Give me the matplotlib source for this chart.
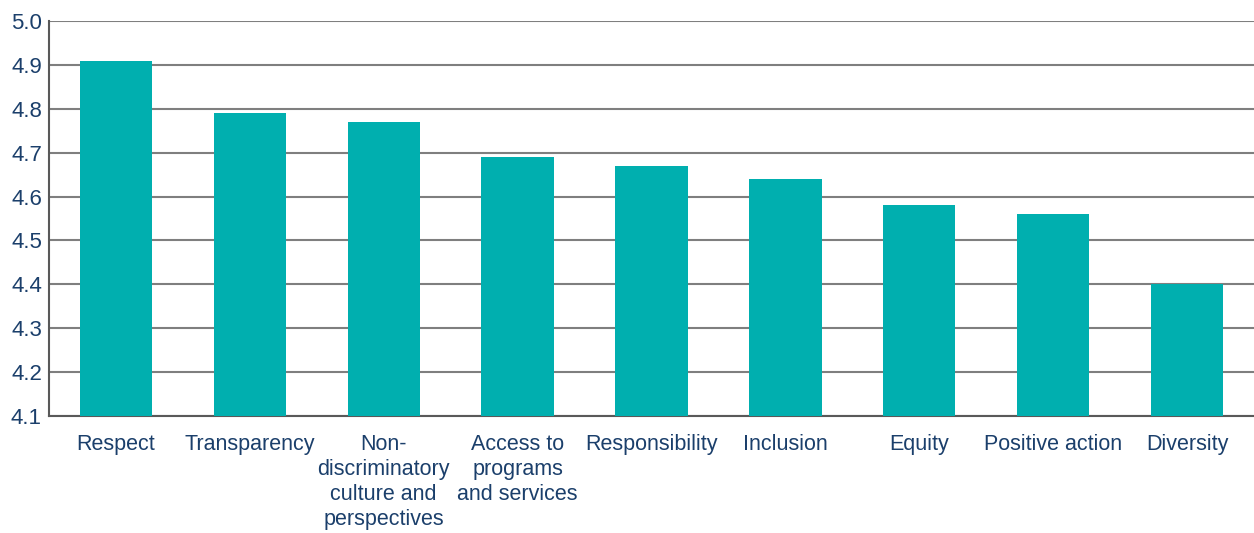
import matplotlib.pyplot as plt
import numpy as np

categories = ["Respect", "Transparency", "Non-\ndiscriminatory\nculture and\nperspectives",
              "Access to\nprograms\nand services", "Responsibility", "Inclusion",
              "Equity", "Positive action", "Diversity"]
values = [4.91, 4.79, 4.77, 4.69, 4.67, 4.64, 4.58, 4.56, 4.40]
yticks = [4.1, 4.2, 4.3, 4.4, 4.5, 4.6, 4.7, 4.8, 4.9, 5.0]

text_color = "#1b3f6b"
plt.rcParams['font.family'] = ['Liberation Sans', 'DejaVu Sans']

fig = plt.figure(figsize=(12.54, 5.33), dpi=100)
ax = fig.add_axes([0.039, 0.2195, 0.961, 0.741])

x = np.arange(len(categories))
ax.bar(x, values, width=0.54, color="#00afaf", zorder=3)

ax.set_ylim(4.1, 5.0)
ax.set_xlim(-0.5, len(categories) - 0.5)
ax.set_yticks(yticks)
ax.set_yticklabels([f"{v:.1f}" for v in yticks])
ax.set_xticks(x)
ax.set_xticklabels(categories, linespacing=1.25, va="top")
ax.yaxis.grid(True, color="#7f7f7f", lw=1.5, zorder=0)
ax.tick_params(axis='both', length=0, labelsize=15.5, colors=text_color)
ax.tick_params(axis='x', pad=13)
ax.tick_params(axis='y', pad=5, labelsize=16)

for s in ["top", "right"]:
    ax.spines[s].set_visible(False)
ax.spines["left"].set_color("#595959")
ax.spines["left"].set_linewidth(1.5)
ax.spines["bottom"].set_color("#595959")
ax.spines["bottom"].set_linewidth(1.5)

fig.savefig("out.png", dpi=100)
